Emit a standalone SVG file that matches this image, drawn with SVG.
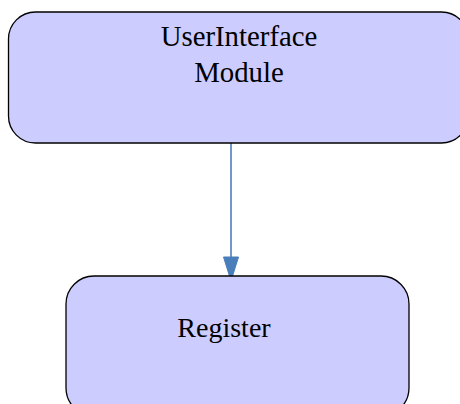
<svg xmlns="http://www.w3.org/2000/svg" width="460" height="404" viewBox="0 0 460 404">
  <style>
    .node rect { fill: #ccccff; stroke: #000000; stroke-width: 1.3; }
    .node text { font-family: "Liberation Serif", "Times New Roman", serif; font-size: 28px; fill: #000000; text-anchor: middle; }
    #node-userinterface text { font-size: 28.8px; }
    .edge line { stroke: #4a7ebb; stroke-width: 1.6; }
    .edge polygon { fill: #4a7ebb; stroke: #4a7ebb; stroke-width: 1; }
  </style>
  <rect width="460" height="404" fill="#ffffff"/>
  <g id="connectors" class="edge">
    <line x1="231" y1="143" x2="231" y2="258"/>
    <polygon points="223.5,257 238.5,257 231,281"/>
  </g>
  <g id="node-userinterface" class="node">
    <rect x="8.5" y="12" width="460" height="131" rx="27" ry="27"/>
    <text x="239" y="46">UserInterface</text>
    <text x="239" y="82">Module</text>
  </g>
  <g id="node-register" class="node">
    <rect x="66" y="276" width="343" height="140" rx="28" ry="28"/>
    <text x="224" y="337">Register</text>
  </g>
</svg>
